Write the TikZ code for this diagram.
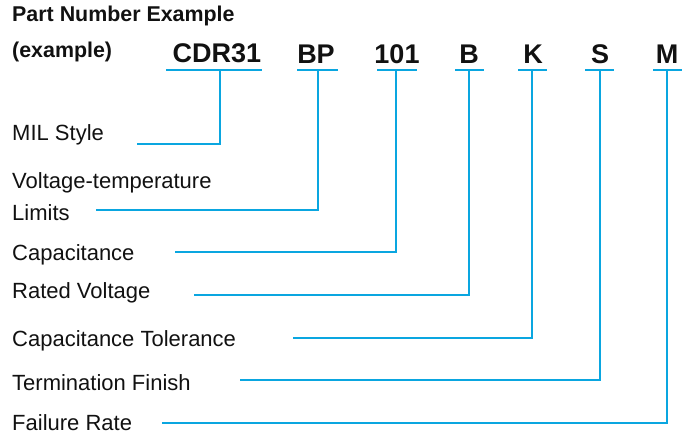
\documentclass[tikz,border=0pt]{standalone}
\usepackage{fontspec}
\setmainfont{Liberation Sans}
\usepackage{xcolor}
\usetikzlibrary{positioning, calc}
\definecolor{accCyan}{HTML}{0AA6E0}
\definecolor{inkText}{HTML}{111111}
\tikzset{
  headLbl/.style={font=\bfseries\fontsize{21.4}{24}\selectfont, text=inkText, anchor=base west, inner sep=0pt},
  codeLbl/.style={font=\bfseries\fontsize{27}{30}\selectfont, text=inkText, anchor=base, inner sep=0pt},
  fieldLbl/.style={font=\fontsize{22}{24}\selectfont, text=inkText, anchor=base west, inner sep=0pt},
  leader/.style={draw=accCyan, line width=2.6pt},
}

\begin{document}
\begin{tikzpicture}[x=1pt, y=-1pt]
        \useasboundingbox (0,0) rectangle (688,437);
        % heading
        \node[headLbl] (title) at (12,21) {Part Number Example};
        \node[headLbl] (sub) at (12,57) {(example)};
        % code groups
        \node[codeLbl] (cdr) at (217,62) {CDR31};
        \node[codeLbl] (bp) at (316,63) {BP};
        \node[codeLbl] (cap) at (397,63) {101};
        \node[codeLbl] (rv) at (469,63) {B};
        \node[codeLbl] (tol) at (533,63) {K};
        \node[codeLbl] (fin) at (600,63) {S};
        \node[codeLbl] (fr) at (667,63) {M};
        % underlines
        \coordinate (cdrL) at (166,70); \coordinate (cdrR) at (262,70);
        \coordinate (bpL) at (297,70); \coordinate (bpR) at (338,70);
        \coordinate (capL) at (377,70); \coordinate (capR) at (417,70);
        \coordinate (rvL) at (455,70); \coordinate (rvR) at (484,70);
        \coordinate (tolL) at (518,70); \coordinate (tolR) at (547,70);
        \coordinate (finL) at (585,70); \coordinate (finR) at (614,70);
        \coordinate (frL) at (653,70); \coordinate (frR) at (682,70);
        \draw[leader] (cdrL) -- (cdrR);
        \draw[leader] (bpL) -- (bpR);
        \draw[leader] (capL) -- (capR);
        \draw[leader] (rvL) -- (rvR);
        \draw[leader] (tolL) -- (tolR);
        \draw[leader] (finL) -- (finR);
        \draw[leader] (frL) -- (frR);
        % field names
        \node[fieldLbl] (milTxt) at (12,140) {MIL Style};
        \node[fieldLbl] (vtTxt) at (12,188) {Voltage-temperature};
        \node[fieldLbl] (limTxt) at (12,220) {Limits};
        \node[fieldLbl] (capTxt) at (12,260) {Capacitance};
        \node[fieldLbl] (rvTxt) at (12,298) {Rated Voltage};
        \node[fieldLbl] (tolTxt) at (12,346) {Capacitance Tolerance};
        \node[fieldLbl] (finTxt) at (12,390) {Termination Finish};
        \node[fieldLbl] (frTxt) at (12,430) {Failure Rate};
        % leader ends
        \coordinate (cdrTap) at (220,70); \coordinate (milEnd) at (137,144);
        \coordinate (bpTap) at (318,70); \coordinate (limEnd) at (96,210);
        \coordinate (capTap) at (396,70); \coordinate (capEnd) at (175,252);
        \coordinate (rvTap) at (469,70); \coordinate (rvEnd) at (194,295);
        \coordinate (tolTap) at (532,70); \coordinate (tolEnd) at (293,338);
        \coordinate (finTap) at (600,70); \coordinate (finEnd) at (240,380);
        \coordinate (frTap) at (667,70); \coordinate (frEnd) at (162,423);
        \draw[leader] (cdrTap) |- (milEnd);
        \draw[leader] (bpTap) |- (limEnd);
        \draw[leader] (capTap) |- (capEnd);
        \draw[leader] (rvTap) |- (rvEnd);
        \draw[leader] (tolTap) |- (tolEnd);
        \draw[leader] (finTap) |- (finEnd);
        \draw[leader] (frTap) |- (frEnd);
      \end{tikzpicture}
\end{document}
